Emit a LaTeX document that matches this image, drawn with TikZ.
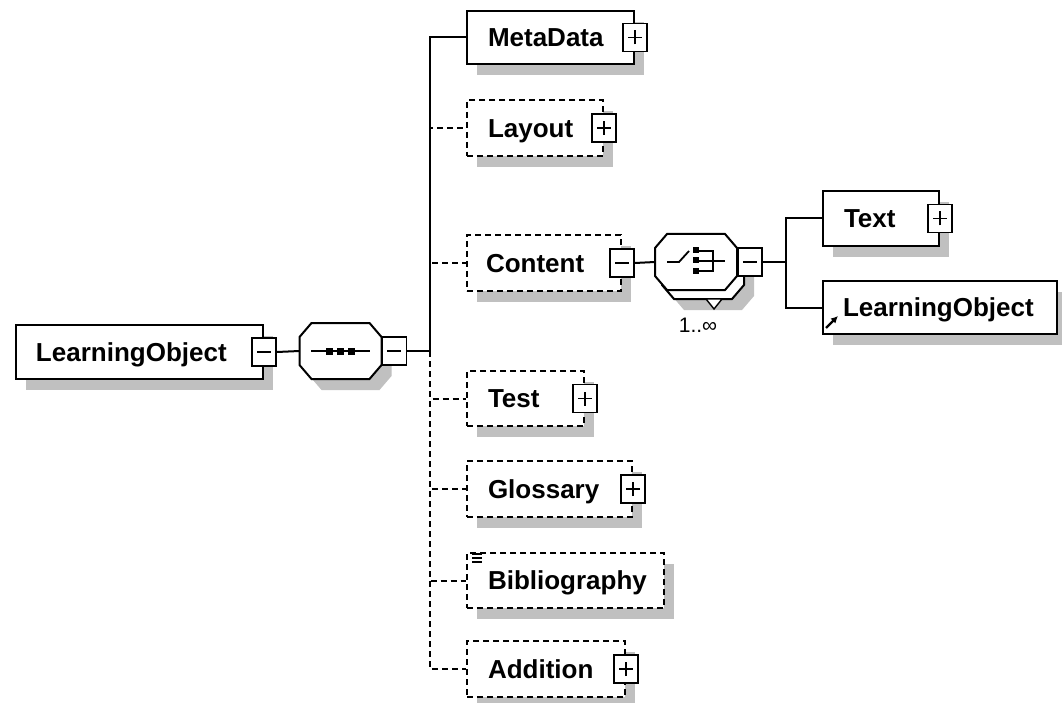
\documentclass[tikz,border=0pt]{standalone}
\usepackage{fontspec}
\setmainfont{Liberation Sans}
\usetikzlibrary{shadows,arrows.meta}
\definecolor{shgray}{RGB}{192,192,192}
\newcommand\elemfnt{\fontsize{26}{30}\selectfont\bfseries}
\newcommand\multfnt{\fontsize{21}{24}\selectfont}
\tikzset{
  shad/.style={drop shadow={shadow xshift=10pt,shadow yshift=-11pt,fill=shgray,opacity=1}},
  elem/.style={draw, fill=white, line width=2pt, anchor=north west, inner xsep=0pt, inner ysep=0pt,
    align=left, text height=20pt, text depth=1.4pt, font=\elemfnt, shad},
  optelem/.style={elem, dash pattern=on 6pt off 4pt},
  pmbox/.style={draw, fill=white, line width=1.8pt, minimum width=24pt, minimum height=28pt, inner sep=0pt},
  mbox/.style={pmbox, path picture={\draw[line width=1.6pt] ([xshift=-7pt]path picture bounding box.center) -- ([xshift=7pt]path picture bounding box.center);}},
  pbox/.style={pmbox, path picture={\draw[line width=1.6pt] ([xshift=-7pt]path picture bounding box.center) -- ([xshift=7pt]path picture bounding box.center) ([yshift=-7pt]path picture bounding box.center) -- ([yshift=7pt]path picture bounding box.center);}},
  octpath/.style={draw, fill=white, line width=2pt},
  octo/.pic={
    \path[octpath] (-41,-14) -- (-29,-28) -- (29,-28) -- (41,-14) -- (41,14) -- (29,28) -- (-29,28) -- (-41,14) -- cycle;
    \coordinate (-w) at (-41,0);
    \coordinate (-e) at (41,0);
  },
  octshadow/.pic={
    \fill[shgray] (-41,-14) -- (-29,-28) -- (29,-28) -- (41,-14) -- (41,14) -- (29,28) -- (-29,28) -- (-41,14) -- cycle;
  },
  conn/.style={line width=2pt},
  optconn/.style={line width=2pt, dash pattern=on 6pt off 4pt},
  sym/.style={line width=1.8pt},
}
\begin{document}
\begin{tikzpicture}[x=1pt,y=-1pt]
\fill[white] (0,0) rectangle (1062,703);
\useasboundingbox (0,0) rectangle (1062,703);

% root
\node[elem, text width=247pt, minimum height=54pt] (lo) at (15,324) {\hspace*{20pt}LearningObject};
\node[mbox] (lom) at (lo.east) {};

% sequence compositor
\pic at (350.5,362) {octshadow};
\pic (seq) at (340.5,351) {octo};
\node[mbox, anchor=west] (seqm) at (seq-e) {};
\draw[sym] (311,351) -- (370,351);
\foreach \cx in {329.5,340.5,351.5} \fill (\cx-3.5,347.5) rectangle (\cx+3.5,354.5);

\draw[conn] (lom.east) -- (seq-w);
\coordinate (trunk) at (430,351);
\draw[conn] (seqm.east) -- (trunk);

% children
\node[elem, text width=167pt, minimum height=53pt] (meta) at (466,10) {\hspace*{21pt}MetaData};
\node[pbox] (metap) at (meta.east) {};
\node[optelem, text width=136pt, minimum height=56pt] (layout) at (466,99) {\hspace*{21pt}Layout};
\node[pbox] (layoutp) at (layout.east) {};
\node[optelem, text width=154pt, minimum height=56pt] (content) at (466,234) {\hspace*{19pt}Content};
\node[mbox] (contentm) at (content.east) {};
\node[optelem, text width=117pt, minimum height=55pt] (test) at (466,370) {\hspace*{21pt}Test};
\node[pbox] (testp) at (test.east) {};
\node[optelem, text width=165pt, minimum height=56pt] (gloss) at (466,460) {\hspace*{21pt}Glossary};
\node[pbox] (glossp) at (gloss.east) {};
\node[optelem, text width=197pt, minimum height=55pt] (biblio) at (466,552) {\hspace*{21pt}Bibliography};
\draw[line width=1.4pt] (472,554) -- (482,554) (472,558) -- (482,558) (472,562) -- (482,562);
\node[optelem, text width=158pt, minimum height=56pt] (add) at (466,640) {\hspace*{21pt}Addition};
\node[pbox] (addp) at (add.east) {};

\draw[optconn] (trunk) |- (layout.west);
\draw[optconn] (trunk) |- (content.west);
\draw[optconn] (trunk) |- (test.west);
\draw[optconn] (trunk) |- (gloss.west);
\draw[optconn] (trunk) |- (biblio.west);
\draw[optconn] (trunk) |- (add.west);
\draw[conn] (trunk) |- (meta.west);

% choice compositor (1..inf)
\pic at (713,282) {octshadow};
\pic (choiceback) at (703,271) {octo};
\pic (choice) at (696,262) {octo};
\draw[line width=1.4pt, fill=white] (706,299) -- (722,299) -- (714,309) -- cycle;
\node[mbox, anchor=west] (choicem) at (choice-e) {};
\draw[sym] (667,262) -- (679,262) -- (689,251);
\foreach \cy in {250,260.5,271} \fill (693,\cy-3) rectangle (699,\cy+3);
\draw[sym] (699,251) -- (713,251) -- (713,271) -- (699,271);
\draw[sym] (699,261) -- (725,261);
\node[font=\multfnt, inner sep=0pt] (mult) at (698,325) {1..∞};

\draw[conn] (contentm.east) -- (choice-w);
\coordinate (cfork) at (786,262);
\draw[conn] (choicem.east) -- (cfork);

\node[elem, text width=116pt, minimum height=55pt] (text) at (822,190) {\hspace*{21pt}Text};
\node[pbox] (textp) at (text.east) {};
\node[elem, text width=234pt, minimum height=53pt] (lo2) at (822,280) {\hspace*{20pt}LearningObject};
\draw[line width=2.4pt, -{Latex[length=7pt,width=7pt]}] (826,328) -- (838,316);

\draw[conn] (cfork) |- (text.west);
\draw[conn] (cfork) |- (lo2.west);
\end{tikzpicture}
\end{document}
